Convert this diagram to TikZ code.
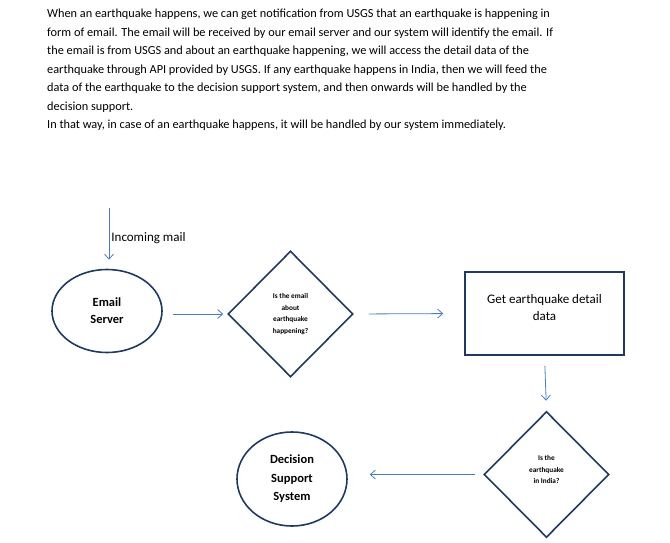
\documentclass[tikz,border=0pt]{standalone}
\usepackage{fontspec}
\setmainfont{Carlito}
\usetikzlibrary{shapes.geometric,arrows.meta}

\definecolor{flowblue}{HTML}{4A7EBB}
\definecolor{boxnavy}{HTML}{1F3A5F}

\begin{document}
\begin{tikzpicture}[x=1pt,y=-1pt,
  shapeline/.style={draw=boxnavy,line width=1.6pt,align=center,inner sep=0pt},
  bubble/.style={shapeline,ellipse,font=\fontsize{12.5}{17}\selectfont\bfseries},
  query/.style={shapeline,diamond,minimum width=125pt,minimum height=126pt},
  querytxt/.style={align=center,inner sep=0pt,font=\fontsize{7.3}{11.7}\selectfont\bfseries},
  flow/.style={draw=flowblue,line width=0.8pt,-{Straight Barb[length=5pt,width=9pt]}}]

\useasboundingbox (0,0) rectangle (670,543) ;

\node[anchor=north west,align=left,inner sep=0pt,font=\fontsize{12.3}{18.5}\selectfont] (intro) at (47,9)
 {When an earthquake happens, we can get notification from USGS that an earthquake is happening in\\
  form of email. The email will be received by our email server and our system will identify the email. If\\
  the email is from USGS and about an earthquake happening, we will access the detail data of the\\
  earthquake through API provided by USGS. If any earthquake happens in India, then we will feed the\\
  data of the earthquake to the decision support system, and then onwards will be handled by the\\
  decision support.\\
  In that way, in case of an earthquake happens, it will be handled by our system immediately.} ;

\node[bubble,minimum width=110pt,minimum height=83pt] (server) at (107,311) {Email\\Server} ;

\node[query] (isquake) at (290.5,314) {} ;
\node[querytxt] (isquaketxt) at (isquake.center) {Is the email\\about\\earthquake\\happening?} ;

\node[shapeline,rectangle,minimum width=159pt,minimum height=83pt] (detail) at (544.5,313.5) {} ;
\node[align=center,inner sep=0pt,font=\fontsize{13}{17}\selectfont] (detailtxt) at ([yshift=6pt]detail.center) {Get earthquake detail\\data} ;

\node[query] (isindia) at (546.5,474.5) {} ;
\node[querytxt] (isindiatxt) at ([yshift=5pt]isindia.center) {Is the\\earthquake\\in India?} ;

\node[bubble,minimum width=110pt,minimum height=94pt,font=\fontsize{12.5}{18.5}\selectfont\bfseries] (decision) at (292,479) {Decision\\Support\\System} ;

\coordinate (mailin) at (109,208) ;

\draw[flow,shorten >=9pt] (mailin) -- (mailin |- server.north)
  node[pos=0.5,anchor=west,font=\fontsize{13}{15}\selectfont,inner sep=2pt] (mailtxt) {Incoming mail} ;

\draw[flow,shorten <=10pt,shorten >=4pt] (server.east |- isquake.west) -- (isquake.west) ;
\draw[flow,shorten <=15pt,shorten >=21pt] (isquake.east) -- (detail.west) ;
\draw[flow,shorten <=10pt,shorten >=10pt] (detail.south) -- (isindia.north) ;
\draw[flow,shorten <=8pt,shorten >=22pt] (isindia.west) -- (isindia.west -| decision.east) ;

\end{tikzpicture}
\end{document}
